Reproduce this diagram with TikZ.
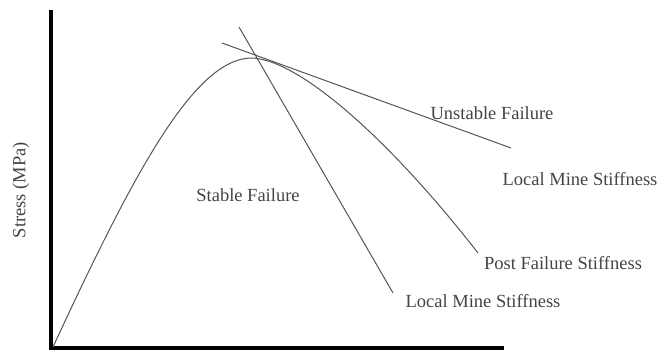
\documentclass[tikz,border=0pt]{standalone}
\usepackage{fontspec}
\setmainfont{Liberation Serif}
\definecolor{ink}{HTML}{555555}
\definecolor{txt}{HTML}{444444}
\begin{document}
\begin{tikzpicture}[x=1pt,y=-1pt,
  axis/.style={line width=4pt,black},
  curve/.style={line width=1pt,ink},
  lbl/.style={text=txt,font=\fontsize{18.5}{18.5}\selectfont,inner sep=0pt}]
\useasboundingbox (0,0) rectangle (657,352);
\coordinate (ytop) at (51,10);
\coordinate (orig) at (51,348);
\coordinate (xend) at (504,348);
\draw[axis] (ytop) -- (orig) -- (xend);
% stress-strain curve
\coordinate (c0) at (53,347);
\coordinate (peak) at (252,58);
\coordinate (cend) at (478,253);
\draw[curve] (c0) .. controls (135,170) and (195,58) .. (peak)
  .. controls (300,60) and (390,140) .. (cend);
% unstable failure line
\coordinate (u1) at (222,43);
\coordinate (u2) at (511,148);
\draw[curve] (u1) -- (u2);
% local mine stiffness steep line
\coordinate (s1) at (239,27);
\coordinate (s2) at (393,293);
\draw[curve] (s1) -- (s2);
% labels
\node[lbl,rotate=90] (ylab) at (21,190) {Stress (MPa)};
\node[lbl] (stable) at (248,195) {Stable Failure};
\node[lbl] (unstable) at (492,113) {Unstable Failure};
\node[lbl] (lms1) at (580,179) {Local Mine Stiffness};
\node[lbl] (pfs) at (563,263) {Post Failure Stiffness};
\node[lbl] (lms2) at (483,301) {Local Mine Stiffness};
\end{tikzpicture}
\end{document}
